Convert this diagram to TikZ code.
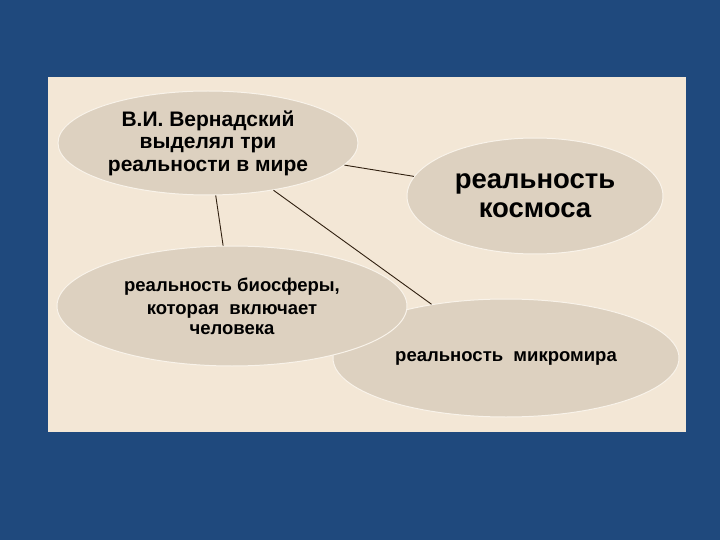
\documentclass[tikz,border=0pt]{standalone}
\usepackage{fontspec}
\setmainfont{Liberation Sans}
\usetikzlibrary{shapes.geometric}

\definecolor{slideblue}{HTML}{1F497D}
\definecolor{panelbeige}{HTML}{F3E7D6}
\definecolor{ovalfill}{HTML}{DDD1C0}

\begin{document}
\begin{tikzpicture}[
      x=1pt, y=-1pt,
      oval/.style={ellipse, fill=ovalfill, draw=panelbeige!50!white, line width=1pt, inner sep=0pt, align=center, text=black},
      link/.style={draw=black!75!brown, line width=0.9pt}
    ]
      % Background
      \fill[slideblue] (0,0) rectangle (720,540);
      \fill[panelbeige] (48,77) rectangle (686,432);
      \useasboundingbox (0,0) rectangle (720,540);

      % Nodes
      \node[oval, minimum width=300, minimum height=104, font=\bfseries\fontsize{21}{22.5}\selectfont] (vernadsky) at (208,143) {В.И. Вернадский\\выделял три\\реальности в мире};
      \node[oval, minimum width=256, minimum height=116, font=\bfseries\fontsize{27.5}{29}\selectfont] (cosmos) at (535,196) {реальность\\космоса};
      \node[oval, minimum width=346, minimum height=118, font=\bfseries\fontsize{18.5}{20}\selectfont] (micro) at (506,358) {реальность\ \ микромира};
      \node[oval, minimum width=350, minimum height=120, font=\bfseries\fontsize{18.5}{20}\selectfont] (biosphere) at (232,306) {реальность биосферы,\\[3pt]которая\ \ включает\\человека};

      % Links
      \draw[link] (vernadsky) -- (cosmos);
      \draw[link] (vernadsky) -- (biosphere);
      \draw[link] (vernadsky) -- (micro);

    \end{tikzpicture}
\end{document}
